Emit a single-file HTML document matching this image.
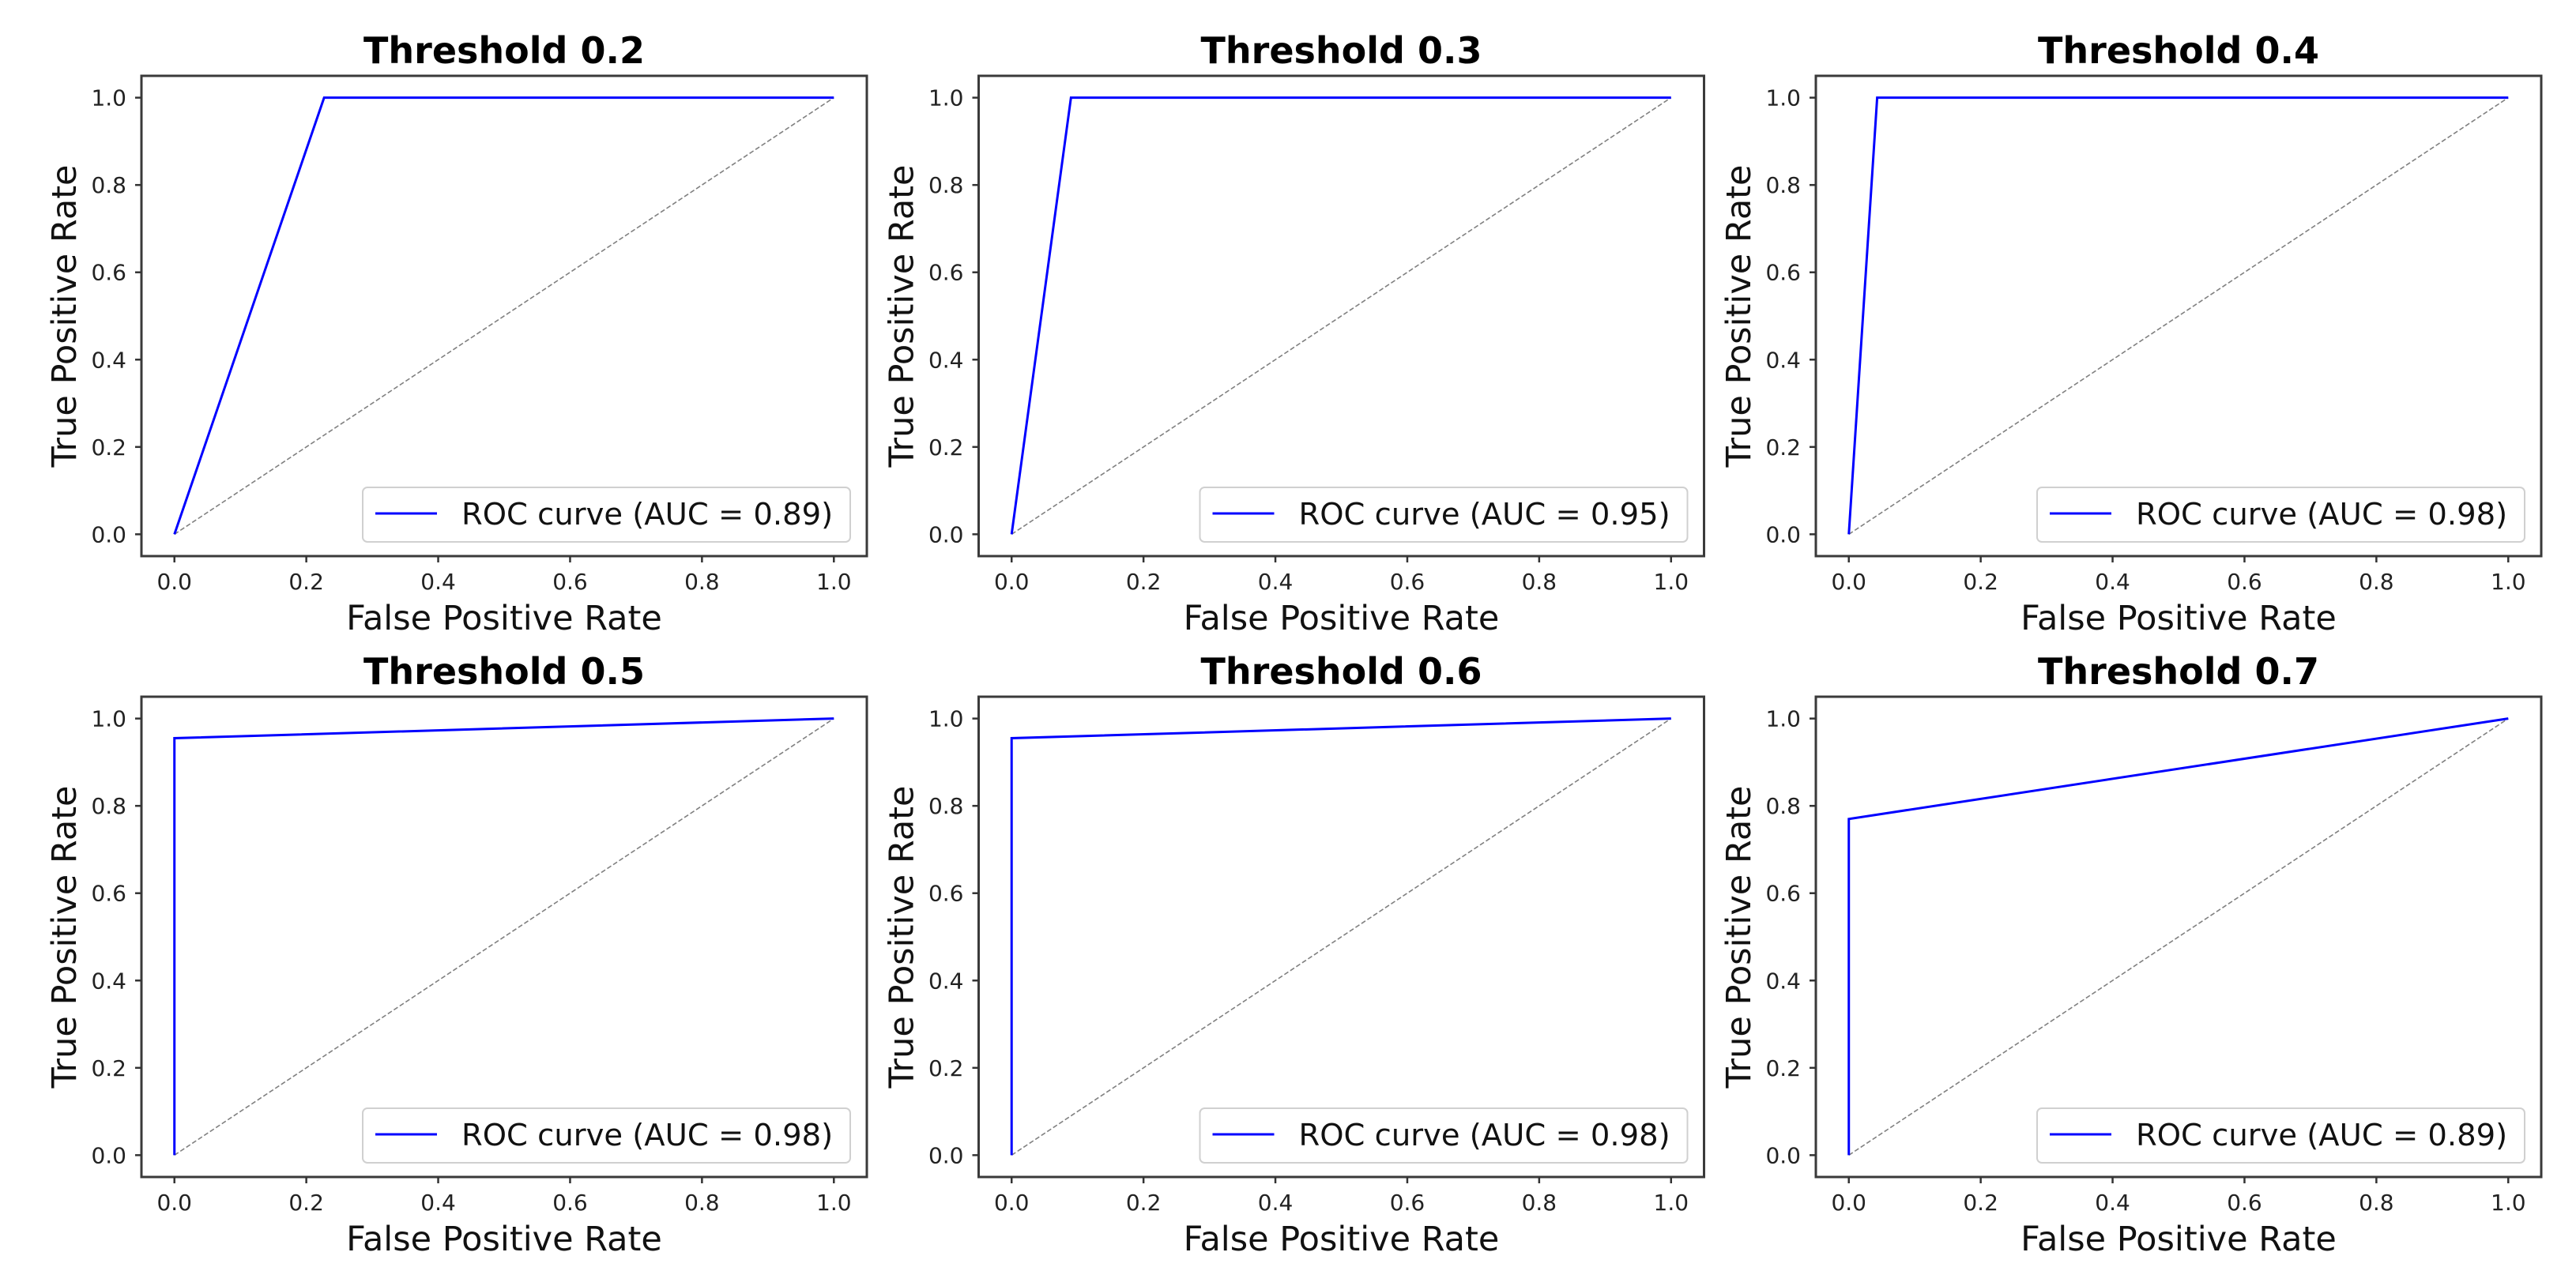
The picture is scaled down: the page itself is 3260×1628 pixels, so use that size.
<!DOCTYPE html>
<html><head><meta charset="utf-8"><style>
html,body{margin:0;padding:0;background:#fff;}
svg{display:block;font-family:"DejaVu Sans","Liberation Sans",sans-serif;}
</style></head><body>
<svg id="fig" width="3260" height="1628" viewBox="0 0 3260 1628" xmlns="http://www.w3.org/2000/svg"></svg>
<script>
const thresholds = ["0.2","0.3","0.4","0.5","0.6","0.7"];
const fprSeries = [[0,0.227,1],[0,0.09,1],[0,0.043,1],[0,0,1],[0,0,1],[0,0,1]];
const tprSeries = [[0,1,1],[0,1,1],[0,1,1],[0,0.955,1],[0,0.955,1],[0,0.77,1]];
const aucValues = ["0.89","0.95","0.98","0.98","0.98","0.89"];
const tickValues = [0,0.2,0.4,0.6,0.8,1.0];
const tickLabels = ["0.0","0.2","0.4","0.6","0.8","1.0"];

const NS="http://www.w3.org/2000/svg";
const svg=document.getElementById('fig');
function mk(tag,attrs,parent){const e=document.createElementNS(NS,tag);for(const k in attrs)e.setAttribute(k,attrs[k]);(parent||svg).appendChild(e);return e;}
const AW=918, AH=608, colStep=1059.5, lefts=[179,179+colStep,179+2*colStep], tops=[96,882];
for(let i=0;i<6;i++){
  const L=lefts[i%3], T=tops[Math.floor(i/3)];
  const g=mk('g',{});
  
  
  const sx=v=>L+(v+0.05)/1.1*AW;
  const sy=v=>T+AH-(v+0.05)/1.1*AH;
  const t=mk('text',{x:L+AW/2,y:T-16,'text-anchor':'middle','font-size':46,'font-weight':'bold',fill:'#000'},g);
  t.textContent='Threshold '+thresholds[i];
  
  
  const d=mk('line',{x1:sx(0),y1:sy(0),x2:sx(1),y2:sy(1),stroke:'#808080','stroke-width':1.6,'stroke-dasharray':'6,3'},g);
  
  
  const pts=fprSeries[i].map((x,j)=>sx(x)+','+sy(tprSeries[i][j])).join(' ');
  const c=mk('polyline',{points:pts,fill:'none',stroke:'#0000ff','stroke-width':3,'stroke-linejoin':'miter'},g);
  
  
  const sp=mk('rect',{x:L,y:T,width:AW,height:AH,fill:'none',stroke:'#3a3a3a','stroke-width':3},g);
  
  
  tickValues.forEach((v,k)=>{
    mk('line',{x1:sx(v),y1:T+AH,x2:sx(v),y2:T+AH+8,stroke:'#333','stroke-width':2.5},g);
    const xl=mk('text',{x:sx(v),y:T+AH+42,'text-anchor':'middle','font-size':28,fill:'#222'},g);
    xl.textContent=tickLabels[k];
    
    
    mk('line',{x1:L-8,y1:sy(v),x2:L,y2:sy(v),stroke:'#333','stroke-width':2.5},g);
    const yl=mk('text',{x:L-19,y:sy(v)+10,'text-anchor':'end','font-size':28,fill:'#222'},g);
    yl.textContent=tickLabels[k];
    
    
  });
  const xa=mk('text',{x:L+AW/2,y:T+AH+93,'text-anchor':'middle','font-size':43,fill:'#111'},g);
  xa.textContent='False Positive Rate';
  
  
  const yx=L-98, yy=T+AH/2;
  const ya=mk('text',{x:yx,y:yy,'text-anchor':'middle','font-size':43,fill:'#111',transform:'rotate(-90 '+yx+' '+yy+') translate(0 15)'},g);
  ya.textContent='True Positive Rate';
  
  
  const lg=mk('g',{},g);
  
  
  const lx=L+AW-21-617, ly=T+AH-18-69;
  mk('rect',{x:lx,y:ly,width:617,height:69,rx:6,fill:'#fff','fill-opacity':0.85,stroke:'#d0d0d0','stroke-width':2},lg);
  mk('line',{x1:lx+16,y1:ly+33,x2:lx+94,y2:ly+33,stroke:'#0000ff','stroke-width':3},lg);
  const lt=mk('text',{x:lx+125,y:ly+47,'font-size':38.5,fill:'#111'},lg);
  lt.textContent='ROC curve (AUC = '+aucValues[i]+')';
  
  
}
</script>
</body></html>
